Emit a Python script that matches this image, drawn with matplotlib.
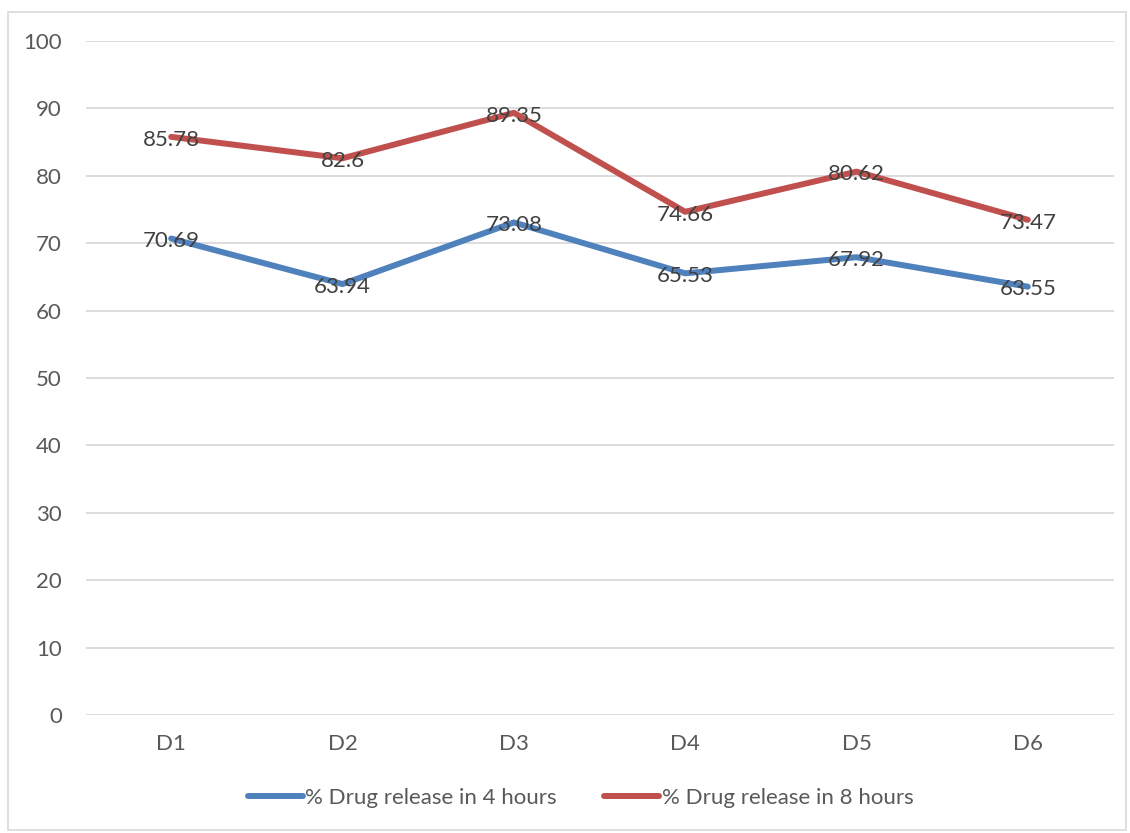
import matplotlib.pyplot as plt
from matplotlib.patches import Rectangle

plt.rcParams['font.family'] = ['Lato', 'DejaVu Sans']

designs = ['D1', 'D2', 'D3', 'D4', 'D5', 'D6']
release_4h = [70.69, 63.94, 73.08, 65.53, 67.92, 63.55]
release_8h = [85.78, 82.6, 89.35, 74.66, 80.62, 73.47]
yticks = [0, 10, 20, 30, 40, 50, 60, 70, 80, 90, 100]

blue = '#4F81BD'
red = '#C0504D'
txt = '#595959'

fig = plt.figure(figsize=(11.3, 8.33), dpi=100)
fig.patches.append(Rectangle((8 / 1130, 3 / 833), 1118 / 1130, 818 / 833,
                             transform=fig.transFigure, fill=False,
                             edgecolor='#D9D9D9', linewidth=1.2))

ax = fig.add_axes([85.5 / 1130, 118 / 833, 1028 / 1130, 674 / 833])
x = range(len(designs))
ax.plot(x, release_4h, color=blue, linewidth=4.3, solid_capstyle='round',
        label='% Drug release in 4 hours')
ax.plot(x, release_8h, color=red, linewidth=4.3, solid_capstyle='round',
        label='% Drug release in 8 hours')

# value labels sit centred on each point
for series in (release_4h, release_8h):
    for i, v in enumerate(series):
        ax.annotate(f'{v:g}', (i, v), xytext=(0, -2), textcoords='offset points',
                    ha='center', va='center', fontsize=16, color='#404040',
                    zorder=5)

ax.set_xlim(-0.5, len(designs) - 0.5)
ax.set_ylim(0, 100)
ax.set_yticks(yticks)
ax.set_xticks(list(x))
ax.set_xticklabels(designs)
ax.grid(axis='y', color='#D9D9D9', linewidth=1.3)
ax.set_axisbelow(True)
for s in ax.spines.values():
    s.set_visible(False)
ax.tick_params(length=0, labelsize=16, labelcolor=txt)
ax.tick_params(axis='y', pad=17)
ax.tick_params(axis='x', pad=14)

leg = fig.legend(loc='center', bbox_to_anchor=(0.5137, 35 / 833), ncol=2,
                 frameon=False, fontsize=16, handlelength=2.5,
                 handletextpad=0.1, columnspacing=2.1)
for t in leg.get_texts():
    t.set_color(txt)

fig.savefig('out.png', dpi=100)
